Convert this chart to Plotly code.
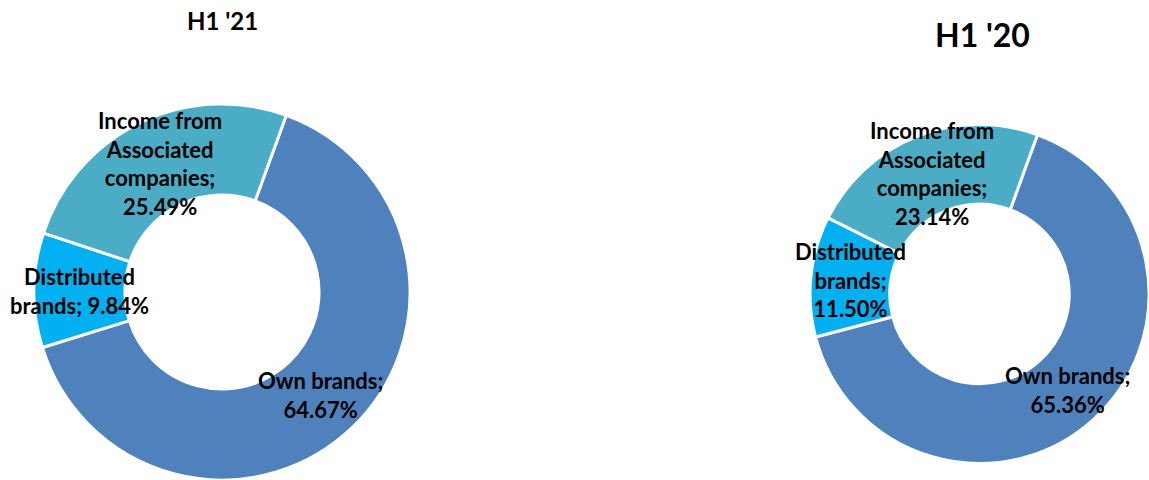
import math
import plotly.graph_objects as go

# ---- data ----
categories = ["Own brands", "Distributed brands", "Income from Associated companies"]
label_lines = [["Own brands;"], ["Distributed", "brands;"], ["Income from", "Associated", "companies;"]]
values_h1_21 = [64.67, 9.84, 25.49]
values_h1_20 = [65.36, 11.50, 23.14]
label_lines_20 = [["Own brands;"], ["Distributed", "brands;", ""], ["Income from", "Associated", "companies;"]]
titles = ["H1 '21", "H1 '20"]
colors = ["#4F81BD", "#00B0F0", "#4BACC6"]

W, H = 1149, 480
ROT = 20

# geometry (pixels): center x, center y (from top), outer radius, inner radius
charts = [
    dict(cx=222, cy=292, r=188, ri=97, vals=values_h1_21, lines=label_lines, title=titles[0],
         tx=222, ty=21, tsize=24),
    dict(cx=980, cy=294, r=170, ri=90, vals=values_h1_20, lines=label_lines_20, title=titles[1],
         tx=982, ty=35, tsize=32),
]

fig = go.Figure()
annotations = []
FONT = "Lato, 'Open Sans', sans-serif"

for ch in charts:
    cx, cy, r, ri = ch["cx"], ch["cy"], ch["r"], ch["ri"]
    dom_x = [(cx - r) / W, (cx + r) / W]
    dom_y = [(H - (cy + r)) / H, (H - (cy - r)) / H]
    dom_x = [max(0, dom_x[0]), min(1, dom_x[1])]
    dom_y = [max(0, dom_y[0]), min(1, dom_y[1])]
    fig.add_trace(go.Pie(
        labels=categories, values=ch["vals"], sort=False, direction="clockwise",
        rotation=ROT, hole=ri / r, textinfo="none", hoverinfo="label+percent",
        marker=dict(colors=colors, line=dict(color="white", width=3)),
        domain=dict(x=dom_x, y=dom_y), showlegend=False,
    ))
    total = sum(ch["vals"])
    start = ROT
    rm = (r + ri) / 2
    for v, lines in zip(ch["vals"], ch["lines"]):
        span = 360 * v / total
        mid = math.radians(start + span / 2)
        start += span
        px = cx + rm * math.sin(mid)
        py = cy - rm * math.cos(mid)
        pct = f"{v:.2f}%"
        ls = [l for l in lines if l]
        if len(lines) == 1 and lines[0] == "Own brands;":
            text = "Own brands;<br>" + pct
        elif ls == ["Distributed", "brands;"] and len(lines) == 2:
            text = "Distributed<br>brands; " + pct
        else:
            text = "<br>".join(ls + [pct])
        annotations.append(dict(
            x=px / W, y=1 - py / H, xref="paper", yref="paper", text=text,
            showarrow=False, xanchor="center", yanchor="middle", align="center",
            font=dict(family=FONT, size=22, color="black", weight="bold"),
        ))
    annotations.append(dict(
        x=ch["tx"] / W, y=1 - ch["ty"] / H, xref="paper", yref="paper", text=ch["title"],
        showarrow=False, xanchor="center", yanchor="middle",
        font=dict(family=FONT, size=ch["tsize"], color="black", weight="bold"),
    ))

fig.update_layout(
    width=W, height=H, margin=dict(l=0, r=0, t=0, b=0),
    paper_bgcolor="white", plot_bgcolor="white",
    annotations=annotations,
)
fig.write_html("out.html")
